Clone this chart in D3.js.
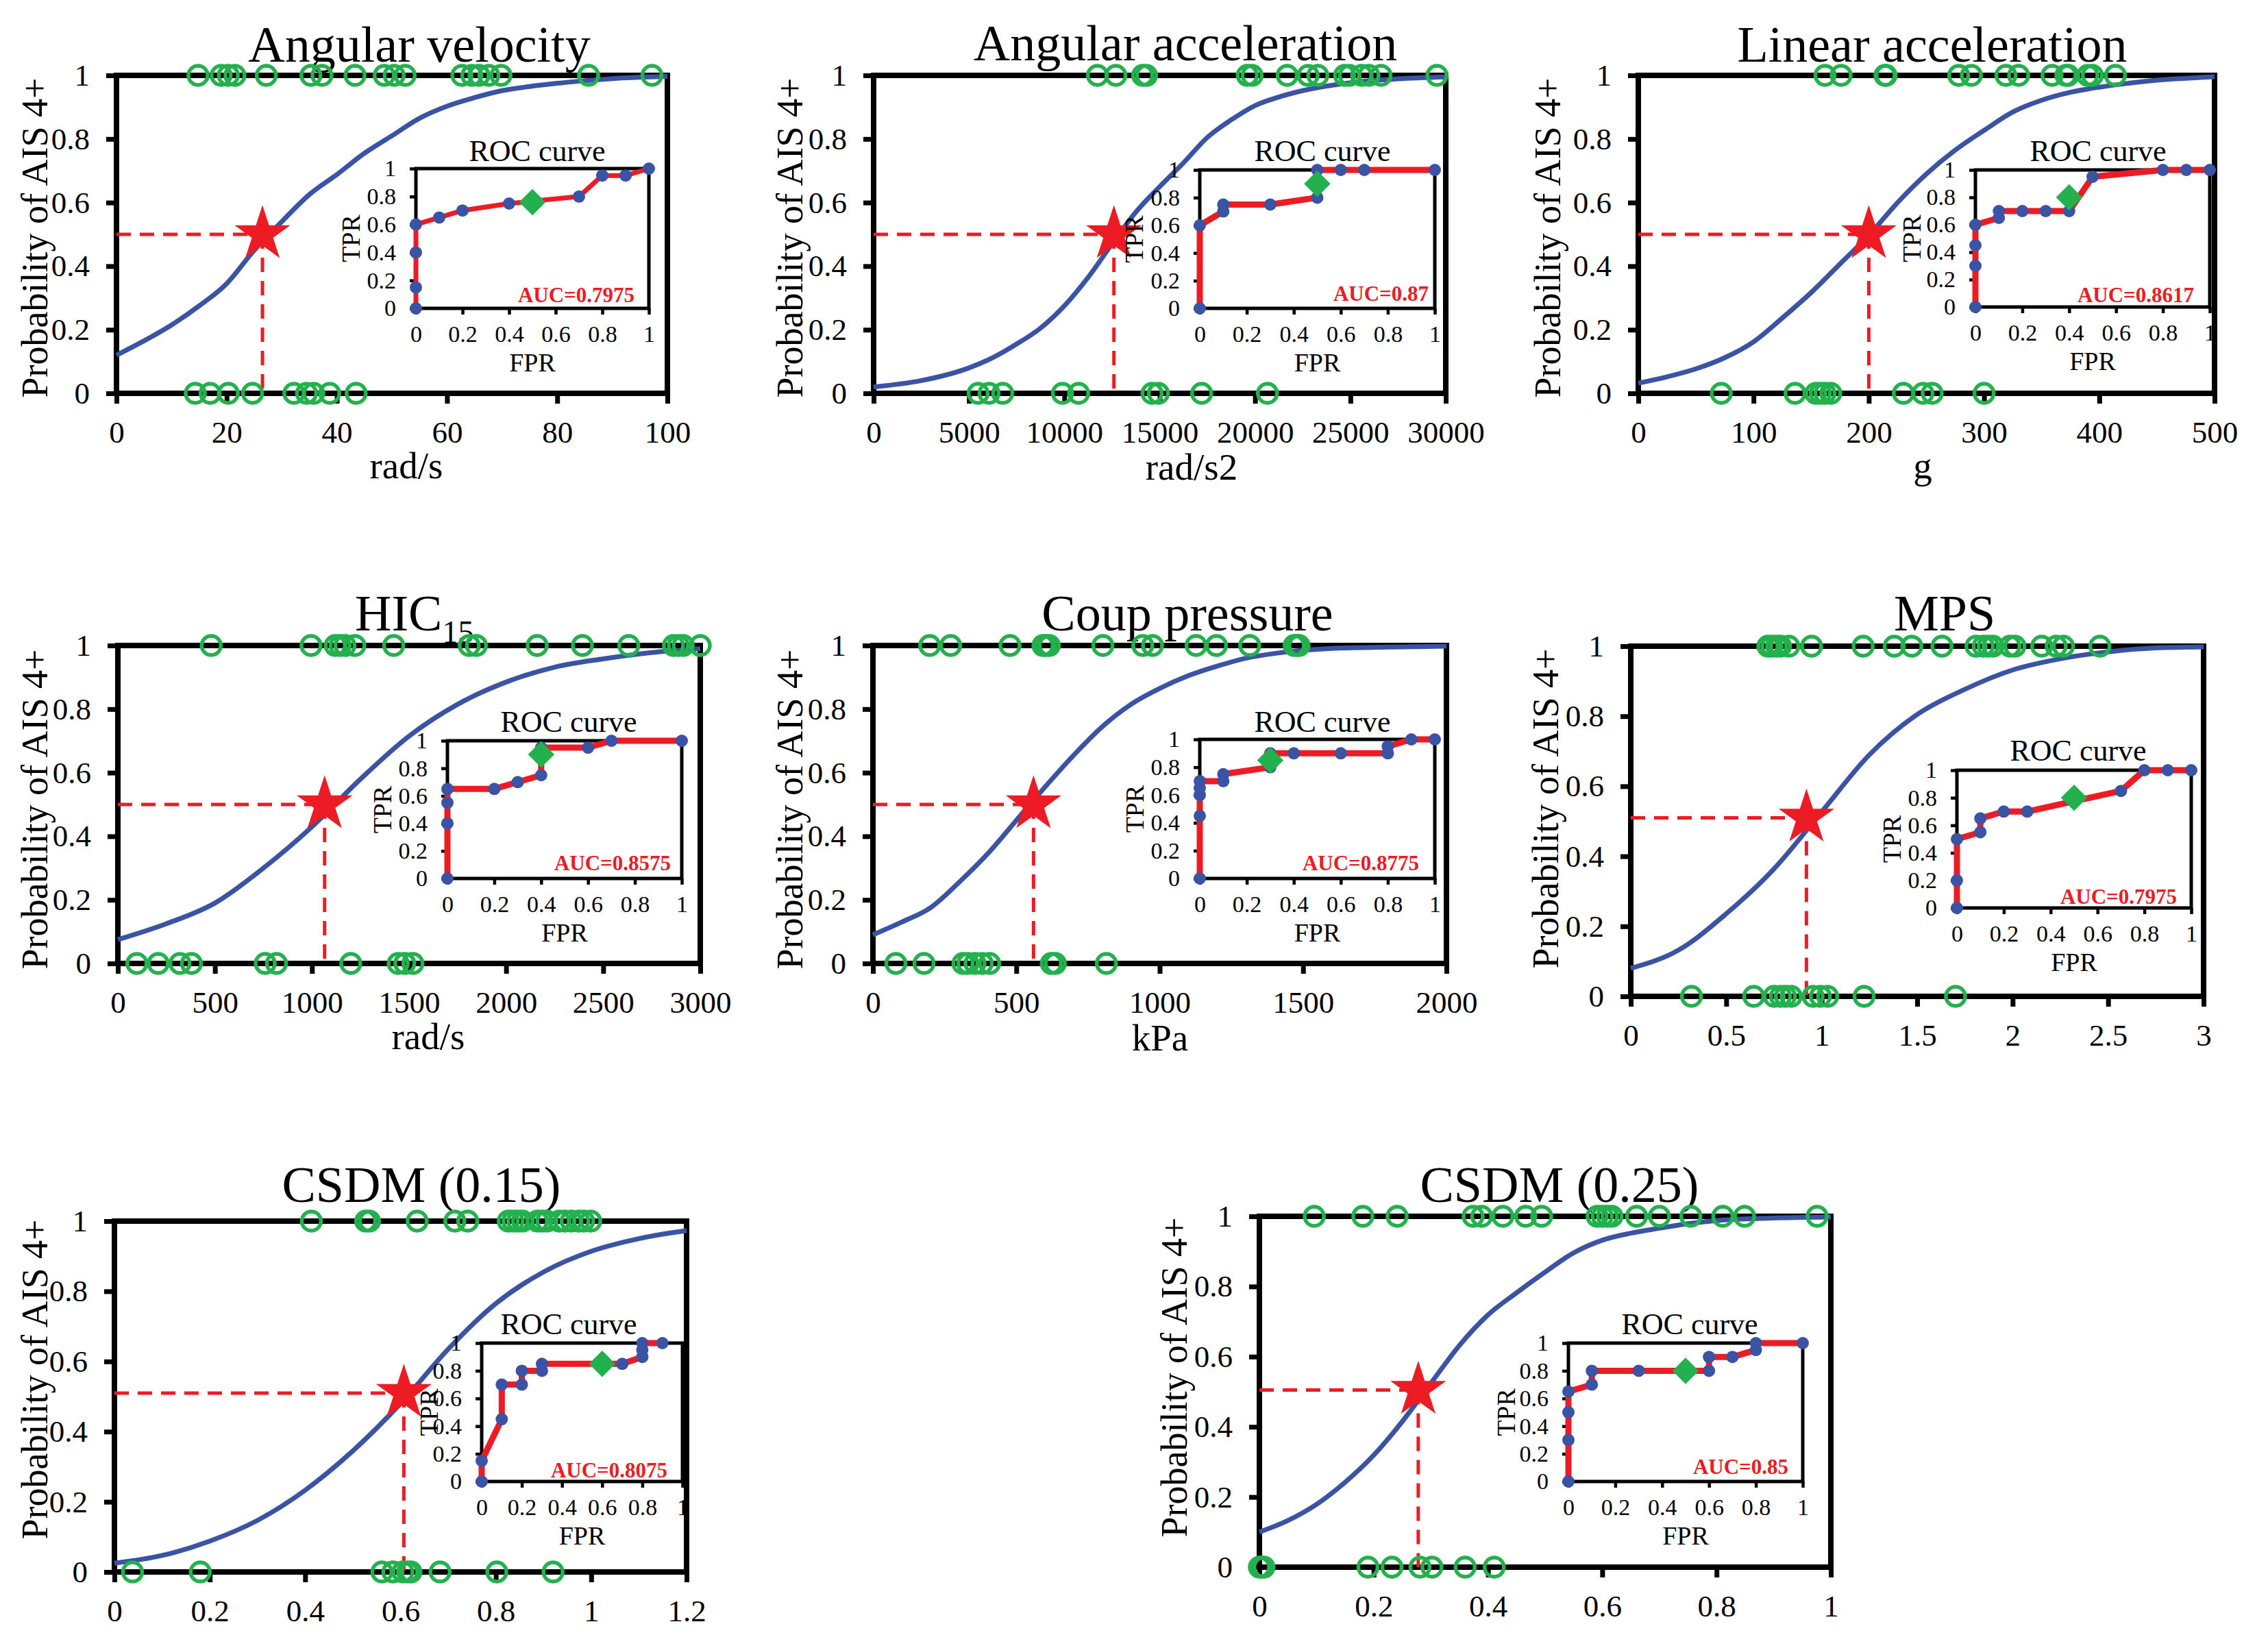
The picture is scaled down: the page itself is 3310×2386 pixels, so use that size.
<!DOCTYPE html>
<html><head><meta charset="utf-8">
<script src="https://cdn.jsdelivr.net/npm/d3@7"></script>
<style>
html,body{margin:0;padding:0;background:#fff;}
svg text{font-family:"Liberation Serif","Times New Roman",serif;fill:#000;}
</style></head><body>
<svg id="chart" width="3310" height="2386"></svg>
<script>
// ---------------- DATA ----------------
const panelTitles = ["Angular velocity","Angular acceleration","Linear acceleration","HIC","Coup pressure","MPS","CSDM (0.15)","CSDM (0.25)"];
const titleSubscripts = ["","","","15","","","",""];
const xAxisTitles = ["rad/s","rad/s2","g","rad/s","kPa","","",""];
const xMax = [100,30000,500,3000,2000,3,1.2,1];

const xTicksAV  = [0,20,40,60,80,100];
const xTicksAA  = [0,5000,10000,15000,20000,25000,30000];
const xTicksLA  = [0,100,200,300,400,500];
const xTicksHIC = [0,500,1000,1500,2000,2500,3000];
const xTicksCP  = [0,500,1000,1500,2000];
const xTicksMPS = [0,0.5,1,1.5,2,2.5,3];
const xTicksC15 = [0,0.2,0.4,0.6,0.8,1,1.2];
const xTicksC25 = [0,0.2,0.4,0.6,0.8,1];
const yTicks    = [0,0.2,0.4,0.6,0.8,1];
const rocTicks  = [0,0.2,0.4,0.6,0.8,1];

// cases with AIS 4+ (plotted at probability 1) and without (plotted at 0)
const injAV  = [14.8,19.0,20.3,21.5,27.2,35.3,37.3,43.3,48.6,50.4,52.4,62.7,64.5,65.8,67.6,69.8,85.7,97.2];
const nonAV  = [14.3,17.0,20.3,24.7,32.2,34.5,35.8,38.7,43.5];
const injAA  = [11735,12704,14107,14311,19592,19847,21684,22781,23291,24694,24949,25587,25969,26607,29541];
const nonAA  = [5480,6050,6770,9900,10750,14600,14930,17200,20650];
const injLA  = [162,176,214,215,278,289,319,330,359,371,373,390,394,414];
const nonLA  = [72,136,154,158,162,167,230,247,255,300];
const injHIC = [481,995,1120,1145,1170,1221,1421,1810,1847,2160,2393,2632,2862,2887,2912,3000];
const nonHIC = [98,208,320,379,759,817,1200,1444,1478,1520];
const injCP  = [198,271,478,593,602,615,802,941,975,1127,1198,1314,1469,1480,1486];
const nonCP  = [80,178,314,331,356,381,407,622,636,814];
const injMPS = [0.718,0.739,0.764,0.784,0.828,0.947,1.217,1.380,1.472,1.630,1.808,1.846,1.872,1.897,1.986,2.012,2.152,2.228,2.266,2.457];
const nonMPS = [0.318,0.644,0.751,0.784,0.810,0.840,0.955,0.993,1.031,1.222,1.701];
const injC15 = [0.413,0.527,0.535,0.635,0.714,0.741,0.826,0.836,0.846,0.856,0.887,0.897,0.907,0.933,0.945,0.958,0.974,0.984,0.999];
const nonC15 = [0.038,0.180,0.561,0.584,0.605,0.615,0.622,0.683,0.802,0.920];
const injC25 = [0.096,0.181,0.241,0.374,0.389,0.426,0.466,0.494,0.591,0.600,0.609,0.617,0.660,0.700,0.755,0.811,0.849,0.976];
const nonC25 = [0,0.003,0.008,0.190,0.232,0.281,0.302,0.360,0.411];

// risk curves [metric value, probability]
const curveAV  = [[0,0.12],[5,0.165],[10,0.215],[15,0.275],[20,0.345],[25,0.45],[30,0.54],[35,0.625],[40,0.688],[45,0.755],[50,0.81],[55,0.865],[60,0.903],[65,0.93],[70,0.952],[75,0.965],[80,0.975],[85,0.983],[90,0.99],[95,0.994],[100,0.997]];
const curveAA  = [[0,0.02],[2500,0.04],[5000,0.08],[6000,0.105],[7500,0.155],[8750,0.205],[10000,0.275],[11250,0.365],[12500,0.47],[13750,0.57],[15000,0.65],[16250,0.725],[17500,0.805],[18750,0.86],[20000,0.905],[21250,0.932],[22500,0.952],[25000,0.977],[27500,0.989],[30000,0.995]];
const curveLA  = [[0,0.032],[25,0.052],[50,0.077],[75,0.112],[100,0.162],[125,0.237],[150,0.317],[175,0.407],[200,0.497],[225,0.6],[250,0.69],[275,0.765],[300,0.827],[325,0.885],[350,0.922],[375,0.947],[400,0.963],[425,0.975],[450,0.985],[475,0.991],[500,0.996]];
const curveHIC = [[0,0.075],[250,0.125],[500,0.19],[750,0.3],[1000,0.43],[1250,0.58],[1500,0.715],[1750,0.815],[2000,0.885],[2250,0.932],[2500,0.958],[2750,0.978],[3000,0.99]];
const curveCP  = [[0,0.09],[100,0.13],[200,0.175],[300,0.255],[400,0.345],[500,0.45],[600,0.555],[700,0.655],[800,0.745],[900,0.815],[1000,0.865],[1100,0.905],[1200,0.935],[1300,0.96],[1400,0.975],[1500,0.985],[1600,0.991],[1800,0.995],[2000,0.998]];
const curveMPS = [[0,0.08],[0.25,0.132],[0.5,0.236],[0.75,0.364],[1.0,0.527],[1.25,0.69],[1.5,0.805],[1.75,0.877],[2.0,0.932],[2.25,0.964],[2.5,0.984],[2.75,0.995],[3,0.998]];
const curveC15 = [[0,0.025],[0.1,0.047],[0.2,0.088],[0.3,0.147],[0.4,0.233],[0.5,0.345],[0.6,0.48],[0.7,0.635],[0.8,0.765],[0.9,0.855],[1.0,0.914],[1.1,0.95],[1.2,0.973]];
const curveC25 = [[0,0.10],[0.05,0.133],[0.1,0.179],[0.15,0.242],[0.2,0.319],[0.25,0.415],[0.3,0.524],[0.35,0.632],[0.4,0.719],[0.45,0.782],[0.5,0.841],[0.55,0.896],[0.6,0.932],[0.65,0.952],[0.7,0.966],[0.75,0.979],[0.8,0.988],[0.9,0.995],[1.0,0.998]];

// 50% threshold points
const thresholds = [[26.5,0.5],[12600,0.5],[200,0.5],[1065,0.5],[560,0.5],[0.92,0.51],[0.607,0.51],[0.278,0.505]];

// ROC curves [FPR, TPR]
const rocAV  = [[0,0],[0,0.15],[0,0.4],[0,0.6],[0.1,0.65],[0.2,0.7],[0.4,0.75],[0.7,0.8],[0.8,0.95],[0.9,0.95],[1,1]];
const rocAA  = [[0,0],[0,0.6],[0.1,0.7],[0.1,0.75],[0.3,0.75],[0.5,0.8],[0.5,1],[0.6,1],[0.7,1],[1,1]];
const rocLA  = [[0,0],[0,0.3],[0,0.45],[0,0.6],[0.1,0.65],[0.1,0.7],[0.2,0.7],[0.3,0.7],[0.4,0.7],[0.5,0.95],[0.8,1],[0.9,1],[1,1]];
const rocHIC = [[0,0],[0,0.4],[0,0.55],[0,0.65],[0.2,0.65],[0.3,0.7],[0.4,0.75],[0.4,0.95],[0.6,0.95],[0.7,1],[1,1]];
const rocCP  = [[0,0],[0,0.45],[0,0.6],[0,0.65],[0,0.7],[0.1,0.7],[0.1,0.75],[0.3,0.8],[0.3,0.9],[0.4,0.9],[0.6,0.9],[0.8,0.9],[0.8,0.95],[0.9,1],[1,1]];
const rocMPS = [[0,0],[0,0.2],[0,0.5],[0.1,0.55],[0.1,0.65],[0.2,0.7],[0.3,0.7],[0.7,0.85],[0.8,1],[0.9,1],[1,1]];
const rocC15 = [[0,0],[0,0.15],[0.1,0.45],[0.1,0.7],[0.2,0.7],[0.2,0.8],[0.3,0.8],[0.3,0.85],[0.7,0.85],[0.8,0.9],[0.8,0.95],[0.8,1],[0.9,1]];
const rocC25 = [[0,0],[0,0.3],[0,0.5],[0,0.65],[0.1,0.7],[0.1,0.8],[0.3,0.8],[0.6,0.8],[0.6,0.9],[0.7,0.9],[0.8,0.95],[0.8,1],[1,1]];
const optimalPoints = [[0.5,0.76],[0.5,0.9],[0.4,0.8],[0.4,0.9],[0.3,0.85],[0.5,0.8],[0.6,0.85],[0.5,0.8]];
const aucLabels = ["AUC=0.7975","AUC=0.87","AUC=0.8617","AUC=0.8575","AUC=0.8775","AUC=0.7975","AUC=0.8075","AUC=0.85"];

const xTicksAll = [xTicksAV,xTicksAA,xTicksLA,xTicksHIC,xTicksCP,xTicksMPS,xTicksC15,xTicksC25];
const injAll = [injAV,injAA,injLA,injHIC,injCP,injMPS,injC15,injC25];
const nonAll = [nonAV,nonAA,nonLA,nonHIC,nonCP,nonMPS,nonC15,nonC25];
const curveAll = [curveAV,curveAA,curveLA,curveHIC,curveCP,curveMPS,curveC15,curveC25];
const rocAll = [rocAV,rocAA,rocLA,rocHIC,rocCP,rocMPS,rocC15,rocC25];

// ---------------- LAYOUT (pixel positions) ----------------
const layout = [
 {plot:[170,974,110,574],   title:[612,90],   xTitle:[593,698],   yLab:[69,347],    inset:[607,947,450,246],   rocTitle:[784,235],   auc:[926,441],   tpr:82, rocW:7},
 {plot:[1275,2110,110,574], title:[1730,88],  xTitle:[1739,700],  yLab:[1171,347],  inset:[1751,2094,450,248], rocTitle:[1930,235],  auc:[2085,439],  tpr:83, rocW:9},
 {plot:[2391,3232,110,574], title:[2820,90],  xTitle:[2806,698],  yLab:[2277,347],  inset:[2883,3225,448,248], rocTitle:[3062,235],  auc:[3202,441],  tpr:80, rocW:9},
 {plot:[172,1022,942,1406], title:[518,920],  xTitle:[625,1531],  yLab:[69,1181],   inset:[653,995,1282,1081], rocTitle:[830,1068],  auc:[979,1270],  tpr:82, rocW:9},
 {plot:[1274,2111,942,1406],title:[1733,920], xTitle:[1693,1533], yLab:[1171,1181], inset:[1751,2094,1282,1079],rocTitle:[1930,1068], auc:[2071,1270], tpr:82, rocW:9},
 {plot:[2380,3216,943,1454],title:[2838,920], xTitle:null,        yLab:[2274,1180], inset:[2856,3198,1325,1124],rocTitle:[3033,1110], auc:[3177,1319], tpr:82, rocW:9},
 {plot:[167,1002,1782,2294],title:[615,1754], xTitle:null,        yLab:[69,2013],   inset:[703,996,2162,1960], rocTitle:[830,1947],  auc:[974,2156],  tpr:64, rocW:9},
 {plot:[1838,2672,1775,2287],title:[2276,1754],xTitle:null,       yLab:[1732,2010], inset:[2289,2631,2162,1960],rocTitle:[2466,1947], auc:[2610,2151], tpr:78, rocW:9}
];

const BLUE = "#3A53A4", GREEN = "#22B14C", RED = "#ED1C24";
const svg = d3.select("#chart");
svg.append("rect").attr("width",3310).attr("height",2386).attr("fill","#fff");
const fmt = d => String(d);

function styleAxis(g, fontSize, strokeW) {
  g.select(".domain").remove();
  g.selectAll(".tick line").attr("stroke","#000").attr("stroke-width",strokeW);
  g.selectAll(".tick text").attr("font-size",fontSize).attr("fill","#000")
    .attr("font-family",'"Liberation Serif","Times New Roman",serif');
}

for (let i = 0; i < 8; i++) {
  const L = layout[i];
  const [px0,px1,pyT,pyB] = L.plot;
  const x = d3.scaleLinear().domain([0,xMax[i]]).range([px0,px1]);
  const y = d3.scaleLinear().domain([0,1]).range([pyB,pyT]);
  const g = svg.append("g");

  // axes
  g.append("g").attr("transform",`translate(0,${pyB})`)
    .call(d3.axisBottom(x).tickValues(xTicksAll[i]).tickFormat(fmt).tickSize(15).tickSizeOuter(0).tickPadding(25))
    .call(a => styleAxis(a,45,7));
  g.append("g").attr("transform",`translate(${px0},0)`)
    .call(d3.axisLeft(y).tickValues(yTicks).tickFormat(fmt).tickSize(15).tickSizeOuter(0).tickPadding(24))
    .call(a => styleAxis(a,45,7));
  // frame
  g.append("rect").attr("x",x(0)).attr("y",y(1)).attr("width",x(xMax[i])-x(0)).attr("height",y(0)-y(1))
    .attr("fill","none").attr("stroke","#000").attr("stroke-width",8);

  // title
  const t = g.append("text").attr("x",L.title[0]).attr("y",L.title[1]).attr("font-size",74)
    .attr("text-anchor", titleSubscripts[i] ? "start" : "middle");
  t.append("tspan").text(panelTitles[i]);
  if (titleSubscripts[i]) t.append("tspan").attr("font-size",46).attr("dy",18).text(titleSubscripts[i]);

  // axis titles
  if (L.xTitle) g.append("text").attr("x",L.xTitle[0]).attr("y",L.xTitle[1]).attr("font-size",55)
    .attr("text-anchor","middle").text(xAxisTitles[i]);
  g.append("text").attr("transform",`translate(${L.yLab[0]},${L.yLab[1]}) rotate(-90)`)
    .attr("font-size",54).attr("text-anchor","middle").text("Probability of AIS 4+");

  // risk curve
  g.append("path").datum(curveAll[i])
    .attr("d", d3.line().x(d=>x(d[0])).y(d=>y(d[1])).curve(d3.curveMonotoneX))
    .attr("fill","none").attr("stroke",BLUE).attr("stroke-width",7);

  // threshold dashed lines and star
  const th = thresholds[i];
  g.append("line").attr("x1",x(0)).attr("x2",x(th[0])).attr("y1",y(th[1])).attr("y2",y(th[1]))
    .attr("stroke",RED).attr("stroke-width",5).attr("stroke-dasharray","21,13");
  g.append("line").attr("x1",x(th[0])).attr("x2",x(th[0])).attr("y1",y(th[1])).attr("y2",y(0))
    .attr("stroke",RED).attr("stroke-width",5).attr("stroke-dasharray","21,13");
  g.append("path").attr("d", d3.symbol().type(d3.symbolStar).size(2050)())
    .attr("transform",`translate(${x(th[0])},${y(th[1])})`).attr("fill",RED);

  // observations
  g.selectAll(null).data(injAll[i]).join("circle")
    .attr("cx",d=>x(d)).attr("cy",y(1)).attr("r",14)
    .attr("fill","none").attr("stroke",GREEN).attr("stroke-width",5.5);
  g.selectAll(null).data(nonAll[i]).join("circle")
    .attr("cx",d=>x(d)).attr("cy",y(0)).attr("r",14)
    .attr("fill","none").attr("stroke",GREEN).attr("stroke-width",5.5);

  // ----- ROC inset -----
  const [ix0,ix1,iyB,iyT] = L.inset;
  const rx = d3.scaleLinear().domain([0,1]).range([ix0,ix1]);
  const ry = d3.scaleLinear().domain([0,1]).range([iyB,iyT]);
  const gi = g.append("g");
  gi.append("g").attr("transform",`translate(0,${iyB})`)
    .call(d3.axisBottom(rx).tickValues(rocTicks).tickFormat(fmt).tickSize(9).tickSizeOuter(0).tickPadding(16))
    .call(a => styleAxis(a,34,4.5));
  gi.append("g").attr("transform",`translate(${ix0},0)`)
    .call(d3.axisLeft(ry).tickValues(rocTicks).tickFormat(fmt).tickSize(9).tickSizeOuter(0).tickPadding(20))
    .call(a => styleAxis(a,34,4.5));
  gi.append("rect").attr("x",rx(0)).attr("y",ry(1)).attr("width",rx(1)-rx(0)).attr("height",ry(0)-ry(1))
    .attr("fill","none").attr("stroke","#000").attr("stroke-width",5);
  gi.append("text").attr("x",L.rocTitle[0]).attr("y",L.rocTitle[1]).attr("font-size",44)
    .attr("text-anchor","middle").text("ROC curve");
  gi.append("text").attr("x",(ix0+ix1)/2).attr("y",iyB+92).attr("font-size",38)
    .attr("text-anchor","middle").text("FPR");
  gi.append("text").attr("transform",`translate(${ix0-L.tpr},${(iyB+iyT)/2}) rotate(-90)`)
    .attr("font-size",38).attr("text-anchor","middle").text("TPR");
  gi.append("path").datum(rocAll[i])
    .attr("d", d3.line().x(d=>rx(d[0])).y(d=>ry(d[1])))
    .attr("fill","none").attr("stroke",RED).attr("stroke-width",L.rocW).attr("stroke-linejoin","round");
  gi.selectAll(null).data(rocAll[i]).join("circle")
    .attr("cx",d=>rx(d[0])).attr("cy",d=>ry(d[1])).attr("r",9).attr("fill",BLUE);
  const op = optimalPoints[i];
  gi.append("path").attr("d", d3.symbol().type(d3.symbolSquare).size(740)())
    .attr("transform",`translate(${rx(op[0])},${ry(op[1])}) rotate(45)`).attr("fill",GREEN);
  gi.append("text").attr("x",L.auc[0]).attr("y",L.auc[1]).attr("font-size",31).attr("font-weight","bold")
    .attr("text-anchor","end").style("fill",RED).text(aucLabels[i]);
}
</script>
</body></html>
